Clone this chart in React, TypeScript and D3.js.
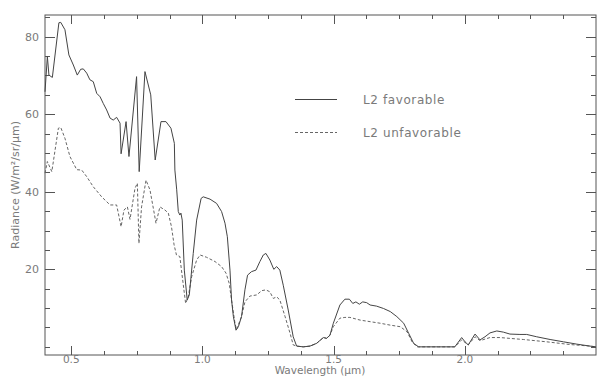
import * as d3 from 'd3';
import { useEffect, useRef } from 'react';

const width = 597;
const height = 376;
const margin = { top: 15, right: 1, bottom: 21, left: 45 };

// wavelength (um) / radiance (W/m2/sr/um)
const favWave = [0.400, 0.409, 0.415, 0.428, 0.453, 0.460, 0.476, 0.491, 0.508, 0.523, 0.536, 0.546, 0.559, 0.571, 0.584, 0.597, 0.610, 0.622, 0.635, 0.648, 0.660, 0.673, 0.686, 0.690, 0.709, 0.720, 0.749, 0.759, 0.781, 0.803, 0.820, 0.842, 0.861, 0.880, 0.893, 0.895, 0.902, 0.908, 0.914, 0.918, 0.923, 0.931, 0.942, 0.950, 0.965, 0.978, 0.995, 1.003, 1.029, 1.054, 1.073, 1.086, 1.095, 1.105, 1.111, 1.118, 1.128, 1.137, 1.149, 1.162, 1.172, 1.187, 1.204, 1.219, 1.232, 1.242, 1.257, 1.272, 1.283, 1.295, 1.308, 1.327, 1.346, 1.359, 1.384, 1.410, 1.435, 1.461, 1.473, 1.486, 1.499, 1.524, 1.543, 1.560, 1.573, 1.585, 1.598, 1.611, 1.626, 1.639, 1.664, 1.690, 1.716, 1.741, 1.767, 1.786, 1.805, 1.824, 1.900, 1.962, 1.988, 2.001, 2.013, 2.039, 2.058, 2.077, 2.096, 2.122, 2.147, 2.172, 2.210, 2.236, 2.274, 2.325, 2.376, 2.427, 2.477, 2.500];
const favRad = [65.8, 74.9, 70.1, 69.5, 83.6, 83.7, 81.8, 75.3, 72.7, 70.1, 71.6, 71.7, 70.6, 68.9, 68.4, 65.4, 64.5, 62.8, 61.1, 59.0, 58.5, 59.2, 57.7, 49.8, 58.1, 49.1, 69.7, 45.2, 71.0, 65.0, 48.2, 58.1, 58.1, 56.4, 52.5, 45.6, 40.5, 34.9, 34.0, 34.5, 32.7, 19.8, 12.1, 13.4, 24.1, 32.7, 38.3, 38.7, 38.1, 37.0, 34.9, 31.9, 28.4, 19.8, 12.1, 7.8, 4.3, 5.2, 7.8, 14.7, 18.5, 19.4, 19.8, 22.0, 23.7, 24.1, 22.4, 20.0, 20.7, 19.8, 15.9, 9.5, 2.6, 0.2, 0.0, 0.2, 0.9, 2.4, 2.2, 3.0, 6.1, 10.8, 12.3, 12.3, 11.2, 11.6, 11.0, 11.6, 11.4, 10.8, 10.5, 9.9, 9.1, 7.8, 6.1, 3.5, 0.9, 0.0, 0.0, 0.0, 2.4, 1.3, 0.5, 3.3, 1.8, 2.6, 3.6, 4.1, 3.8, 3.3, 3.2, 3.2, 2.6, 1.9, 1.3, 0.7, 0.2, 0.0];

const unfavWave = [0.400, 0.409, 0.426, 0.451, 0.460, 0.476, 0.495, 0.521, 0.540, 0.559, 0.584, 0.616, 0.648, 0.673, 0.690, 0.701, 0.714, 0.724, 0.743, 0.752, 0.758, 0.768, 0.785, 0.800, 0.813, 0.823, 0.838, 0.857, 0.870, 0.882, 0.892, 0.901, 0.914, 0.920, 0.936, 0.946, 0.959, 0.978, 0.991, 1.016, 1.048, 1.073, 1.090, 1.102, 1.111, 1.124, 1.130, 1.149, 1.162, 1.181, 1.207, 1.226, 1.242, 1.257, 1.270, 1.283, 1.295, 1.315, 1.334, 1.346, 1.359, 1.384, 1.410, 1.435, 1.461, 1.473, 1.486, 1.499, 1.524, 1.543, 1.562, 1.601, 1.639, 1.677, 1.716, 1.754, 1.780, 1.799, 1.818, 1.962, 1.988, 2.013, 2.039, 2.058, 2.096, 2.134, 2.223, 2.312, 2.401, 2.477, 2.500];
const unfavRad = [44.8, 47.8, 45.2, 56.4, 56.6, 53.8, 49.1, 45.7, 45.6, 43.9, 41.3, 38.7, 36.6, 36.6, 31.0, 35.3, 36.1, 32.9, 40.9, 42.2, 26.7, 36.1, 43.0, 40.5, 35.7, 31.9, 36.1, 35.3, 34.5, 31.0, 26.3, 23.7, 23.3, 19.8, 11.2, 12.9, 18.1, 22.4, 23.7, 23.1, 22.0, 20.7, 19.0, 16.4, 12.1, 6.1, 4.5, 7.8, 11.6, 13.1, 13.4, 14.5, 14.7, 14.2, 12.5, 12.9, 12.1, 7.8, 3.5, 0.5, 0.2, 0.0, 0.2, 0.9, 2.4, 2.2, 3.0, 5.2, 7.4, 7.6, 7.6, 6.9, 6.5, 6.1, 5.6, 5.2, 3.9, 1.3, 0.0, 0.0, 1.8, 0.5, 2.6, 1.6, 2.4, 2.4, 1.9, 1.3, 0.6, 0.2, 0.0];

const xMajor = [0.5, 1.0, 1.5, 2.0];
const xMinorStep = 0.125;
const yMajor = [20, 40, 60, 80];
const yMinorStep = 5;

const seriesNames = ['L2 favorable', 'L2 unfavorable'];

const axisColor = '#555';
const textColor = '#7a7a7a';
const font = "'DejaVu Sans', sans-serif";

const xScale = d3.scaleLinear().domain([0.4, 2.5]).range([margin.left, width - margin.right]);
const yScale = d3.scaleLinear().domain([-2.1, 85.6]).range([height - margin.bottom, margin.top]);

const App = () => {
    const ref = useRef<SVGSVGElement | null>(null);

    useEffect(() => {
        const svg = d3.select(ref.current);
        svg.selectAll('*').remove();

        const x0 = margin.left, x1 = width - margin.right;
        const y0 = height - margin.bottom, y1 = margin.top;

        // frame
        svg.append('rect')
            .attr('x', x0).attr('y', y1)
            .attr('width', x1 - x0).attr('height', y0 - y1)
            .attr('fill', 'none').attr('stroke', axisColor).attr('stroke-width', 1);

        const ticks = svg.append('g').attr('stroke', axisColor).attr('stroke-width', 1);

        // x ticks, bottom and top (4 minor intervals per 0.5)
        const xAll = d3.range(0.5, 2.5, xMinorStep).map(v => +v.toFixed(3))
            .filter(v => v > 0.4 && v < 2.5);
        xAll.forEach(v => {
            const isMajor = xMajor.some(m => Math.abs(m - v) < 1e-6);
            const len = isMajor ? 9 : 4;
            const px = Math.round(xScale(v)) + 0.5;
            ticks.append('line').attr('x1', px).attr('x2', px).attr('y1', y0).attr('y2', y0 - len);
            ticks.append('line').attr('x1', px).attr('x2', px).attr('y1', y1).attr('y2', y1 + len);
        });

        // y ticks, left and right
        d3.range(0, 85.01, yMinorStep).forEach(v => {
            const isMajor = yMajor.includes(v);
            const len = isMajor ? 10 : 5;
            const py = Math.round(yScale(v)) + 0.5;
            ticks.append('line').attr('x1', x0).attr('x2', x0 + len).attr('y1', py).attr('y2', py);
            ticks.append('line').attr('x1', x1).attr('x2', x1 - len).attr('y1', py).attr('y2', py);
        });

        // tick labels
        svg.append('g').selectAll('text').data(xMajor).enter().append('text')
            .attr('x', d => xScale(d)).attr('y', 363)
            .attr('text-anchor', 'middle')
            .attr('font-family', font).attr('font-size', 10.5).attr('fill', textColor)
            .text(d => d.toFixed(1));

        svg.append('g').selectAll('text').data(yMajor).enter().append('text')
            .attr('x', 39).attr('y', d => yScale(d) + 4)
            .attr('text-anchor', 'end')
            .attr('font-family', font).attr('font-size', 11).attr('fill', textColor)
            .text(d => d);

        // axis titles
        svg.append('text')
            .attr('x', 320).attr('y', 373.5)
            .attr('text-anchor', 'middle')
            .attr('font-family', font).attr('font-size', 10.5).attr('fill', textColor)
            .text('Wavelength (\u03bcm)');

        svg.append('text')
            .attr('transform', `translate(19, ${(y0 + y1) / 2}) rotate(-90)`)
            .attr('text-anchor', 'middle')
            .attr('font-family', font).attr('font-size', 11).attr('fill', textColor)
            .text('Radiance (W/m\u00b2/sr/\u03bcm)');

        const line = d3.line<[number, number]>()
            .x(d => xScale(d[0]))
            .y(d => yScale(d[1]));

        const fav = favWave.map((w, i) => [w, favRad[i]] as [number, number]);
        const unfav = unfavWave.map((w, i) => [w, unfavRad[i]] as [number, number]);

        svg.append('path')
            .attr('d', line(unfav))
            .attr('fill', 'none').attr('stroke', '#666').attr('stroke-width', 1)
            .attr('stroke-dasharray', '3,2');

        svg.append('path')
            .attr('d', line(fav))
            .attr('fill', 'none').attr('stroke', '#444').attr('stroke-width', 1);

        // legend
        const legend = svg.append('g');
        legend.append('line').attr('x1', 295).attr('x2', 337).attr('y1', 99.5).attr('y2', 99.5)
            .attr('stroke', '#444').attr('stroke-width', 1);
        legend.append('line').attr('x1', 295).attr('x2', 337).attr('y1', 132.5).attr('y2', 132.5)
            .attr('stroke', '#666').attr('stroke-width', 1).attr('stroke-dasharray', '3,2');
        legend.selectAll('text').data(seriesNames).enter().append('text')
            .attr('x', 363).attr('y', (d, i) => 104 + i * 33)
            .attr('font-family', font).attr('font-size', 12).attr('fill', textColor)
            .attr('letter-spacing', 0.6)
            .text(d => d);
    }, []);

    return (
        <svg ref={ref} width={width} height={height}
            style={{ position: 'absolute', left: 0, top: 0, background: '#fff' }} />
    );
};

export default App;
